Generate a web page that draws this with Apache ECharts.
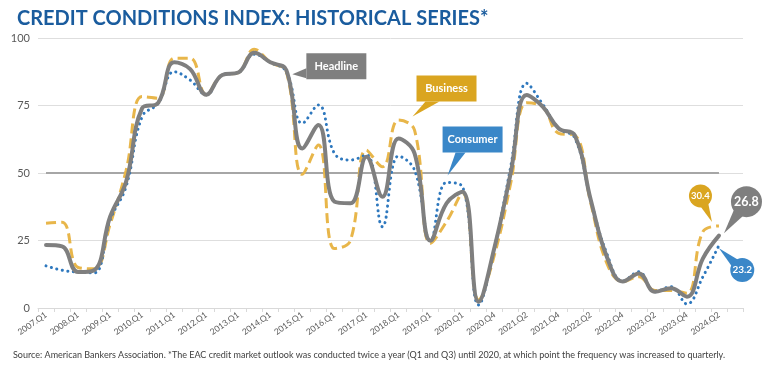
<!DOCTYPE html>
<html><head><meta charset="utf-8">
<script src="https://cdn.jsdelivr.net/npm/echarts@6/dist/echarts.min.js"></script>
<style>html,body{margin:0;padding:0;background:#fff}#c{width:778px;height:367px}</style>
</head><body><div id="c"></div>
<script>
const categories = ["2007.Q1","2007.Q3","2008.Q1","2008.Q3","2009.Q1","2009.Q3","2010.Q1","2010.Q3","2011.Q1","2011.Q3","2012.Q1","2012.Q3","2013.Q1","2013.Q3","2014.Q1","2014.Q3","2015.Q1","2015.Q3","2016.Q1","2016.Q3","2017.Q1","2017.Q3","2018.Q1","2018.Q3","2019.Q1","2019.Q3","2020.Q1","2020.Q3","2020.Q4","2021.Q1","2021.Q2","2021.Q3","2021.Q4","2022.Q1","2022.Q2","2022.Q3","2022.Q4","2023.Q1","2023.Q2","2023.Q3","2023.Q4","2024.Q1","2024.Q2",""];
const headline = [23.3,22.8,13.3,14.0,33.8,46.8,74.0,76.0,91.0,88.5,79.0,86.3,87.2,94.5,91.0,88.1,59.1,67.8,39.4,38.8,56.0,41.2,62.8,57.3,24.9,38.8,43.1,2.3,22.7,49.9,78.9,74.6,66.5,64.0,40.0,19.0,9.8,12.8,6.0,7.3,4.2,18.4,26.8];
const business = [31.4,31.8,15.0,14.5,31.0,51.0,78.3,77.7,92.5,92.5,79.0,86.3,87.2,95.8,91.0,87.5,49.5,60.4,22.0,25.0,58.5,52.3,69.6,65.9,24.0,32.0,42.5,3.0,20.0,46.2,76.0,74.5,64.7,64.0,38.8,16.6,9.8,11.6,6.5,6.5,5.5,28.3,30.4];
const consumer = [15.6,14.0,13.3,13.0,32.6,45.0,70.9,75.8,87.5,84.4,79.0,86.3,87.2,94.0,91.0,87.5,68.4,75.2,57.3,54.8,56.7,30.1,56.3,51.1,25.0,46.5,44.9,1.1,22.7,52.3,83.2,75.5,66.5,63.0,40.0,20.2,10.0,13.4,6.0,7.9,1.5,11.6,23.2];
const yTicks = [0,25,50,75,100];
const REF_LEVEL = 50;
const seriesNames = ["Headline","Business","Consumer"];

const C_GRAY = "#7f7f7f", C_GOLD = "#daa520", C_GOLD_LINE = "#e8b64a", C_BLUE = "#3a87c8", C_BLUE_LINE = "#2e78be";
const FONT = "Lato, 'Open Sans', sans-serif";
const chart = echarts.init(document.getElementById('c'), null, {renderer:'canvas'});
const last = headline.length - 1;
const SM = 0.42;

chart.setOption({
  animation:false,
  backgroundColor:'#fff',
  title:[
    {text:"CREDIT CONDITIONS INDEX: HISTORICAL SERIES*", left:12, top:4,
     textStyle:{fontFamily:FONT, fontSize:20, fontWeight:'bold', color:'#1a5c9e'}},
    {text:"Source: American Bankers Association. *The EAC credit market outlook was conducted twice a year (Q1 and Q3) until 2020, at which point the frequency was increased to quarterly.",
     left:8, top:346, textStyle:{fontFamily:FONT, fontSize:9, fontWeight:'normal', color:'#404040'}}
  ],
  grid:{left:38, right:35, top:38, bottom:59, containLabel:false},
  xAxis:{type:'category', data:categories, boundaryGap:true,
    axisLine:{lineStyle:{color:'#d9d9d9', width:1}},
    axisTick:{show:true, interval:0, length:4, lineStyle:{color:'#d9d9d9'}},
    axisLabel:{interval:1, rotate:35, fontSize:8.5, color:'#595959', fontFamily:FONT, margin:6},
    splitLine:{show:false}},
  yAxis:{type:'value', min:yTicks[0], max:yTicks[yTicks.length-1], interval:25,
    axisLine:{show:false}, axisTick:{show:false},
    axisLabel:{fontSize:11, color:'#595959', fontFamily:FONT, margin:8},
    splitLine:{lineStyle:{color:'#dedede', width:1}}},
  series:[
    {name:seriesNames[1], type:'line', data:business, smooth:SM, symbol:'none', z:3,
     lineStyle:{color:C_GOLD_LINE, width:3, type:[10,5], cap:'butt'}},
    {name:seriesNames[2], type:'line', data:consumer, smooth:SM, symbol:'none', z:4,
     lineStyle:{color:C_BLUE_LINE, width:3, type:[0.1,5.5], cap:'round'}},
    {name:seriesNames[0], type:'line', data:headline, smooth:SM, symbol:'none', z:5,
     lineStyle:{color:C_GRAY, width:4, cap:'round'},
     markLine:{silent:true, symbol:'none', label:{show:false}, z:2,
       lineStyle:{color:'#a6a6a6', width:2, type:'solid'},
       data:[[{coord:[0,REF_LEVEL]},{coord:[last,REF_LEVEL]}]]}}
  ]
});

function px(si, idx, val){ return chart.convertToPixel({seriesIndex:si}, [idx, val]); }
const els = [];
function box(tip, bx, by, bw, bh, base1, base2, color, label){
  els.push({type:'polygon', z:100, shape:{points:[base1, tip, base2]}, style:{fill:color}});
  els.push({type:'rect', z:100, shape:{x:bx, y:by, width:bw, height:bh}, style:{fill:color}});
  els.push({type:'text', z:101, style:{text:label, x:bx+bw/2, y:by+bh/2, fill:'#fff',
    font:"bold 11px "+FONT, textAlign:'center', textVerticalAlign:'middle', align:'center', verticalAlign:'middle'}});
}
function balloon(tip, cx, cy, r, color, label, fs){
  const dx = tip[0]-cx, dy = tip[1]-cy, d = Math.hypot(dx,dy);
  const nx = -dy/d, ny = dx/d, w = r*0.55;
  els.push({type:'polygon', z:100, shape:{points:[[cx+nx*w, cy+ny*w], tip, [cx-nx*w, cy-ny*w]]}, style:{fill:color}});
  els.push({type:'circle', z:100, shape:{cx:cx, cy:cy, r:r}, style:{fill:color}});
  els.push({type:'text', z:101, style:{text:label, x:cx, y:cy, fill:'#fff',
    font:"bold "+fs+"px "+FONT, textAlign:'center', textVerticalAlign:'middle', align:'center', verticalAlign:'middle'}});
}
let a = px(2, 15, headline[15]);
let t = [a[0]+6, a[1]+4];
box(t, t[0]+14, t[1]-21, 60, 26, [t[0]+14, t[1]-6], [t[0]+14, t[1]+4], C_GRAY, seriesNames[0]);
a = px(0, 22, business[22]);
t = [a[0]+14, a[1]-3.5];
box(t, t[0]+4, t[1]-41, 60, 26, [t[0]+13, t[1]-15], [t[0]+27, t[1]-15], C_GOLD, seriesNames[1]);
a = px(1, 25, consumer[25]);
t = [a[0]+1, a[1]-7];
box(t, t[0]-5, t[1]-49, 60, 26, [t[0]+8, t[1]-23], [t[0]+18, t[1]-23], C_BLUE, seriesNames[2]);
a = px(0, last, business[last]);
balloon([a[0]-7, a[1]-4], a[0]-18.5, a[1]-30, 11.5, C_GOLD, business[last].toFixed(1), 9.5);
a = px(2, last, headline[last]);
balloon([a[0]+5, a[1]-2.5], a[0]+27.5, a[1]-34, 15.5, C_GRAY, headline[last].toFixed(1), 12.5);
a = px(1, last, consumer[last]);
balloon([a[0], a[1]+3], a[0]+23.3, a[1]+24.6, 12, C_BLUE, consumer[last].toFixed(1), 10);
chart.setOption({graphic:{elements:els}});
</script></body></html>
